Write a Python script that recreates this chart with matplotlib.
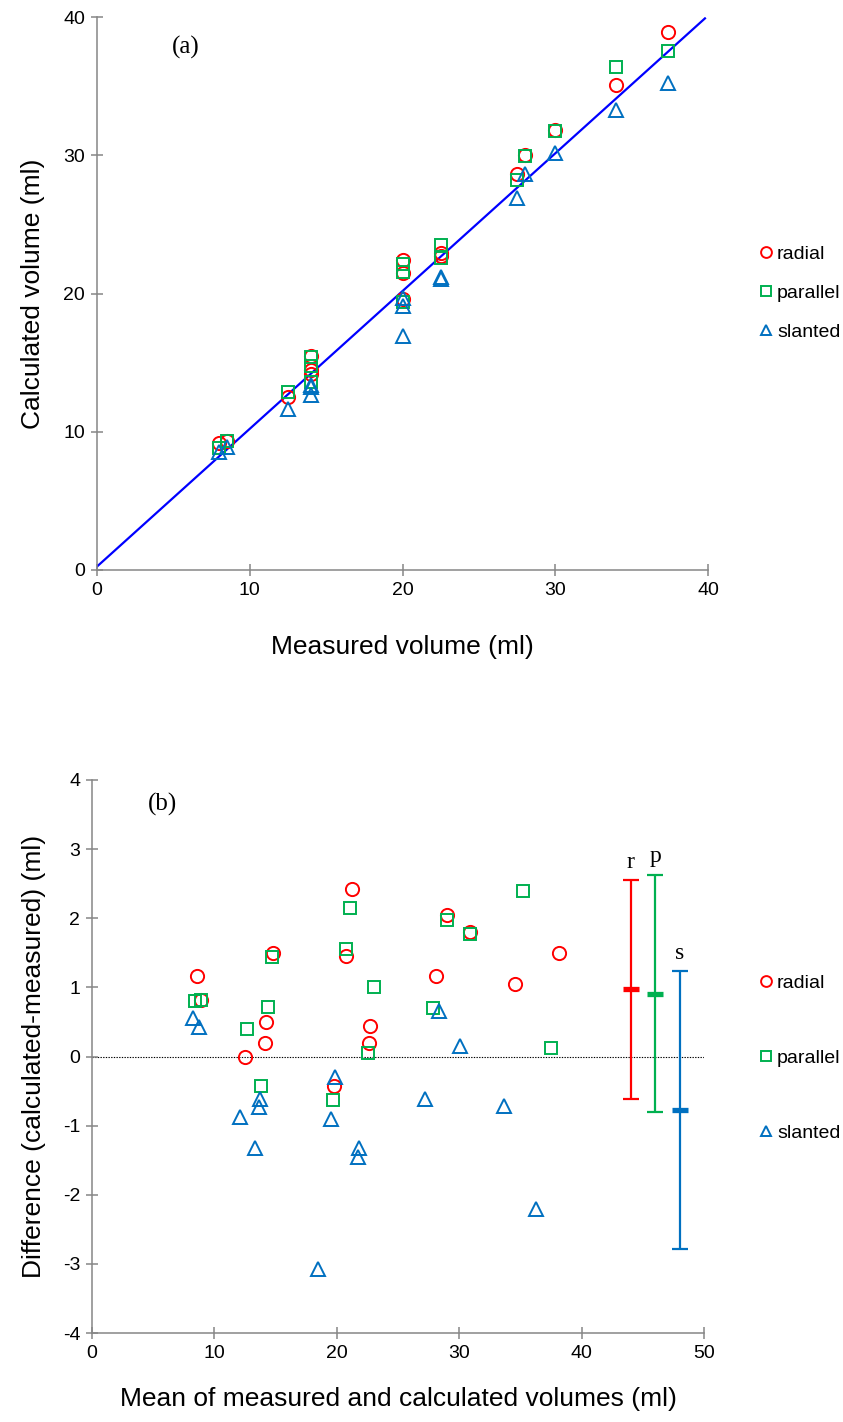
import matplotlib
matplotlib.use("Agg")
import matplotlib.pyplot as plt
import numpy as np
from matplotlib.lines import Line2D

# ---------------- data ----------------
measured = [8, 8.5, 12.5, 14, 14, 14, 20, 20, 20, 22.5, 22.5, 27.5, 28, 30, 34, 37.4]
calc_radial = [9.17, 9.32, 12.5, 14.5, 14.2, 15.5, 19.57, 21.45, 22.42, 22.7, 22.94,
               28.67, 30.05, 31.8, 35.05, 38.9]
calc_parallel = [8.8, 9.32, 12.9, 14.72, 15.44, 13.57, 19.37, 21.55, 22.15, 22.55, 23.5,
                 28.2, 29.97, 31.77, 36.4, 37.52]
calc_slanted = [8.56, 8.93, 11.63, 12.67, 13.38, 13.27, 16.93, 19.09, 19.71, 21.18, 21.04,
                26.89, 28.66, 30.15, 33.28, 35.2]

fit_x = [0, 39.8]
fit_y = [0.25, 39.9]

series_names = ["radial", "parallel", "slanted"]
loa_labels = ["r", "p", "s"]
loa_x = [44, 46, 48]
loa_bias = [0.97, 0.91, -0.78]
loa_upper = [2.55, 2.63, 1.23]
loa_lower = [-0.61, -0.81, -2.78]

a_xticks = [0, 10, 20, 30, 40]
a_yticks = [0, 10, 20, 30, 40]
b_xticks = [0, 10, 20, 30, 40, 50]
b_yticks = [-4, -3, -2, -1, 0, 1, 2, 3, 4]

# ---------------- style ----------------
RED, GREEN, BLUE = "#FF0000", "#00B050", "#0070C0"
colors = [RED, GREEN, BLUE]
markers = ["o", "s", "^"]
GREY = "#868686"
SANS = ["Liberation Sans", "DejaVu Sans"]
SERIF = ["Liberation Serif", "DejaVu Serif"]

plt.rcParams["font.family"] = SANS
plt.rcParams["axes.unicode_minus"] = False

W, H = 843, 1422
fig = plt.figure(figsize=(W / 100, H / 100), dpi=100)

def px_axes(l, r, t, b):
    return fig.add_axes([l / W, 1 - b / H, (r - l) / W, (b - t) / H])

axA = px_axes(97, 708, 17, 570)
axB = px_axes(92, 704, 780, 1333)

def style_axes(ax):
    for s in ["top", "right"]:
        ax.spines[s].set_visible(False)
    for s in ["left", "bottom"]:
        ax.spines[s].set_color(GREY)
        ax.spines[s].set_linewidth(1.1)
    ax.tick_params(direction="inout", length=9, width=1.1, color=GREY,
                   labelsize=14, pad=4, labelcolor="black")

ms = 9.5
mew = 1.4

# ---------------- panel (a) ----------------
calcs = [calc_radial, calc_parallel, calc_slanted]
for c, m, vals, name in zip(colors, markers, calcs, series_names):
    axA.plot(measured, vals, linestyle="none", marker=m, ms=ms if m != "s" else ms * 0.95,
             mfc="none", mec=c, mew=mew, label=name, zorder=3)
axA.plot(fit_x, fit_y, color="#0000FF", lw=1.6, zorder=2)
axA.set_xlim(0, 40)
axA.set_ylim(0, 40)
axA.set_xticks(a_xticks)
axA.set_yticks(a_yticks)
style_axes(axA)
axA.set_xlabel("Measured volume (ml)", fontsize=19, labelpad=26)
axA.set_ylabel("Calculated volume (ml)", fontsize=19, labelpad=13)
axA.text(5.8, 37.8, "(a)", fontsize=18, family=SERIF, ha="center", va="center")

handles = [Line2D([], [], linestyle="none", marker=m, ms=ms, mfc="none", mec=c, mew=mew)
           for m, c in zip(markers, colors)]

fig.legend(handles, series_names, loc="center left",
           bbox_to_anchor=(759.5 / W, 1 - 293 / H), frameon=False, fontsize=14,
           markerscale=0.82, handlelength=0.7, handletextpad=0.2, borderpad=0,
           borderaxespad=0, labelspacing=1.1)

# ---------------- panel (b) ----------------
meas_arr = np.array(measured)
for c, m, vals, name in zip(colors, markers, calcs, series_names):
    v = np.array(vals)
    axB.plot((meas_arr + v) / 2, v - meas_arr, linestyle="none", marker=m,
             ms=ms if m != "s" else ms * 0.95, mfc="none", mec=c, mew=mew, zorder=3)

axB.axhline(0, color="black", lw=0.8, ls=(0, (1.2, 1.2)), zorder=1)

for x, b, lo, hi, c, lab in zip(loa_x, loa_bias, loa_lower, loa_upper, colors, loa_labels):
    axB.errorbar([x], [b], yerr=[[b - lo], [hi - b]], fmt="none", ecolor=c,
                 elinewidth=1.6, capsize=6, capthick=1.6, zorder=4)
    axB.plot([x], [b], marker="_", ms=12, mew=3.8, color=c, zorder=5)
    axB.text(x, hi + 0.18, lab, fontsize=17, family=SERIF, ha="center", va="baseline")

axB.set_xlim(0, 50)
axB.set_ylim(-4, 4)
axB.set_xticks(b_xticks)
axB.set_yticks(b_yticks)
style_axes(axB)
axB.set_xlabel("Mean of measured and calculated volumes (ml)", fontsize=19, labelpad=18)
axB.set_ylabel("Difference (calculated-measured) (ml)", fontsize=19, labelpad=12)
axB.text(5.8, 3.65, "(b)", fontsize=18, family=SERIF, ha="center", va="center")

fig.legend(handles, series_names, loc="center left",
           bbox_to_anchor=(759.5 / W, 1 - 1058 / H), frameon=False, fontsize=14,
           markerscale=0.82, handlelength=0.7, handletextpad=0.2, borderpad=0,
           borderaxespad=0, labelspacing=2.95)

fig.savefig("out.png", dpi=100)
